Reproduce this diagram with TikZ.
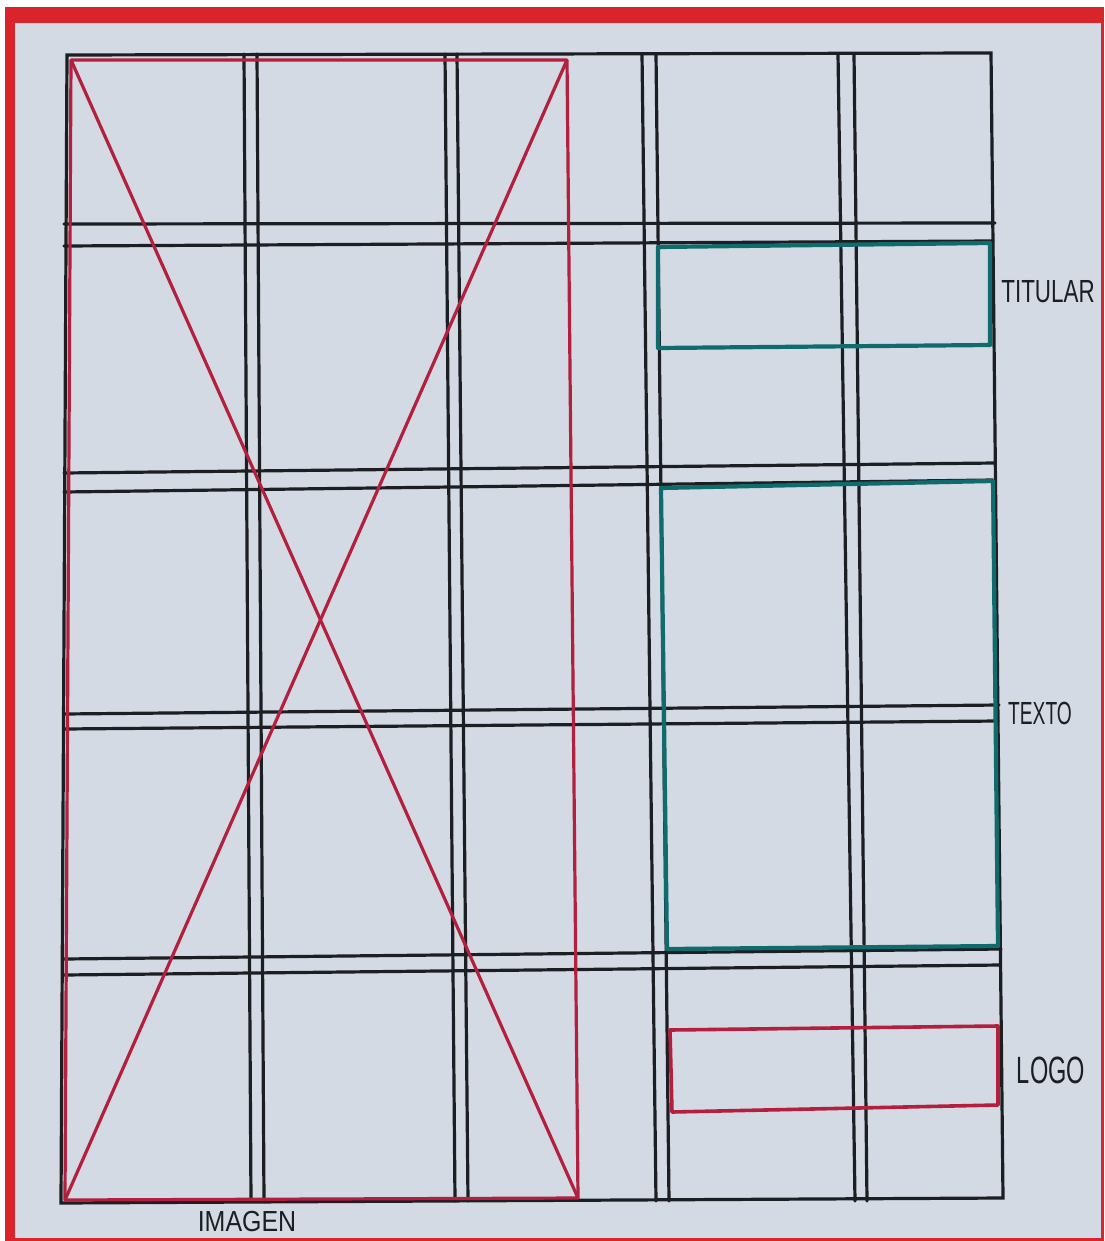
\documentclass[tikz,border=0pt]{standalone}
\usepackage{fontspec}
\setmainfont{Liberation Sans}
\usepackage{graphicx}
\definecolor{paper}{RGB}{212,218,228}
\definecolor{framered}{RGB}{218,36,44}
\definecolor{ink}{RGB}{28,30,34}
\definecolor{sketchred}{RGB}{178,32,62}
\definecolor{sketchteal}{RGB}{16,108,108}
\tikzset{
  gridline/.style={draw=ink, line width=3.2pt, line cap=round},
  imageline/.style={draw=sketchred, line width=3.2pt, line join=round},
  areabox/.style={draw=sketchteal, line width=4.2pt, line join=round},
  logobox/.style={draw=sketchred, line width=3.6pt, line join=round},
  tag/.style={font=\fontsize{32}{32}\selectfont, text=ink, inner sep=0pt},
}

\begin{document}
\begin{tikzpicture}[x=1pt, y=-1pt]
  \useasboundingbox (0,0) rectangle (1104,1241);
  \fill[white] (0,0) rectangle (1104,1241);
  \fill[framered] (5,7) rectangle (1104,1241);
  \fill[paper] (15,23) rectangle (1101,1238);

  \draw[gridline] (67,55) -- (991,53) -- (1003,1198) -- (61,1203) -- cycle;
  \foreach \xa/\xb in {244/251, 257/264, 445/455, 457/468, 642/656, 656/669, 838/855, 854/867}
    \draw[gridline] (\xa,54) -- (\xb,1201);
  \foreach \ya/\yb/\xr in {224/223/995, 246/241/993, 473/463/995, 492/480/993,
                           714/705/999, 729/721/998, 959/949/1001, 975/965/1000}
    \draw[gridline] (64,\ya) -- (\xr,\yb);

  \draw[imageline] (71,60) -- (567,60) -- (578,1198) -- (65,1200) -- cycle;
  \draw[imageline] (71,60) -- (578,1198);
  \draw[imageline] (567,60) -- (65,1200);

  \draw[areabox] (658,247) -- (990,243) -- (990,345) -- (658,348) -- cycle;
  \draw[areabox] (661,488) -- (993,481) -- (998,946) -- (667,949) -- cycle;
  \draw[logobox] (670,1030) -- (998,1026) -- (998,1105) -- (672,1112) -- cycle;

  \node[tag] (titular) at (1048,292) {\scalebox{0.7}[1]{TITULAR}};
  \node[tag] (texto) at (1040,713) {\scalebox{0.6}[1]{TEXTO}};
  \node[tag, font=\fontsize{38}{38}\selectfont] (logo) at (1051,1070) {\scalebox{0.62}[1]{LOGO}};
  \node[tag, font=\fontsize{29}{29}\selectfont] (imagen) at (247,1222) {\scalebox{0.86}[1]{IMAGEN}};
\end{tikzpicture}
\end{document}
